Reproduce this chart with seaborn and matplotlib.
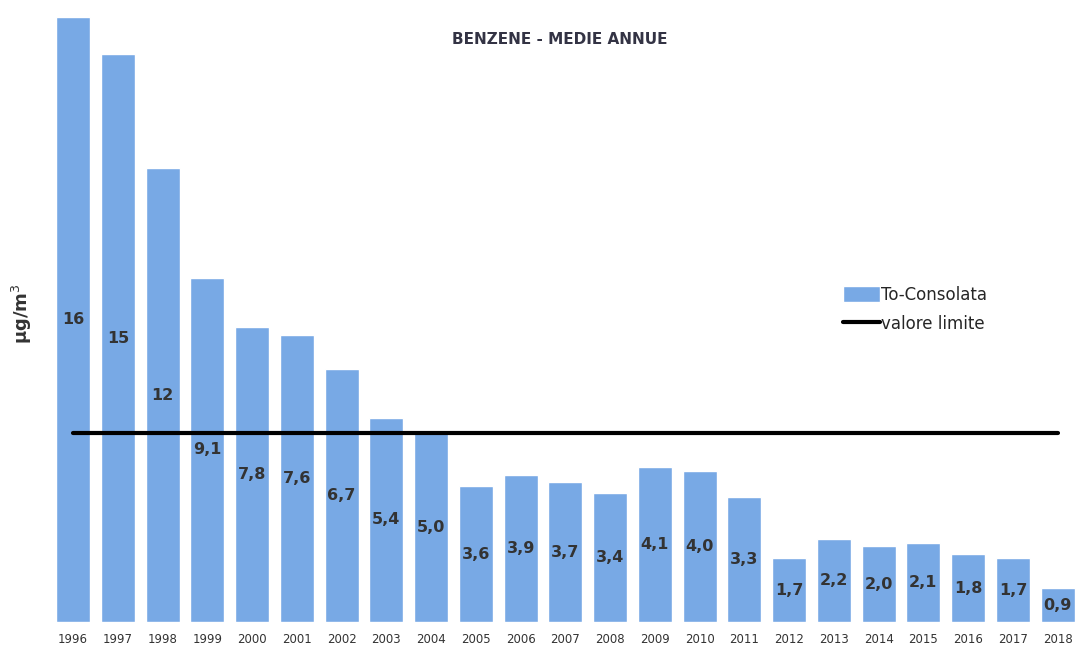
import pandas as pd
import numpy as np
import matplotlib.pyplot as plt
import seaborn as sns

years = ['1996', '1997', '1998', '1999', '2000', '2001', '2002', '2003', '2004', '2005', '2006', '2007',
         '2008', '2009', '2010', '2011', '2012', '2013', '2014', '2015', '2016', '2017', '2018']
values = [16, 15, 12, 9.1, 7.8, 7.6, 6.7, 5.4, 5.0, 3.6, 3.9, 3.7,
          3.4, 4.1, 4.0, 3.3, 1.7, 2.2, 2.0, 2.1, 1.8, 1.7, 0.9]
labels = ['16', '15', '12', '9,1', '7,8', '7,6', '6,7', '5,4', '5,0', '3,6', '3,9', '3,7',
          '3,4', '4,1', '4,0', '3,3', '1,7', '2,2', '2,0', '2,1', '1,8', '1,7', '0,9']
limit = [5] * len(years)

df = pd.DataFrame({'anno': years, 'valore': values, 'limite': limit})

sns.set_theme(style='white')
plt.rcParams['font.family'] = ['DejaVu Sans']

fig = plt.figure(figsize=(10.8, 6.57), dpi=100)
ax = fig.add_axes([0.047, 0.053, 0.953, 0.939])

sns.barplot(x='anno', y='valore', data=df, color='#78a9e5', saturation=1, width=0.76,
            ax=ax, label='To-Consolata')
ax.plot(np.arange(len(years)), df['limite'], color='black', lw=3, label='valore limite')

for i, v in enumerate(values):
    ax.text(i, v / 2, labels[i], ha='center', va='center', fontsize=11.5,
            fontweight='bold', color='#333333')

ax.set_ylim(0, 16.3)
ax.set_xlim(-0.5, len(years) - 0.5)
ax.set_yticks([])
ax.set_xlabel('')
ax.set_ylabel('μg/m$^3$', fontsize=13, fontweight='bold', color='#333333', labelpad=12)
ax.tick_params(axis='x', length=0, labelsize=8.5, colors='#333333', pad=8)
for s in ax.spines.values():
    s.set_visible(False)

fig.text(0.518, 0.94, 'BENZENE - MEDIE ANNUE', ha='center', va='center',
         fontsize=11, fontweight='bold', color='#333344')

handles, names = ax.get_legend_handles_labels()
order = [names.index('To-Consolata'), names.index('valore limite')]
ax.legend([handles[k] for k in order], [names[k] for k in order],
          loc='upper left', bbox_to_anchor=(0.755, 0.57), frameon=False, fontsize=12,
          handlelength=2.2, handleheight=1.1, handletextpad=0.1, labelspacing=0.7)

fig.savefig('out.png', dpi=100)
